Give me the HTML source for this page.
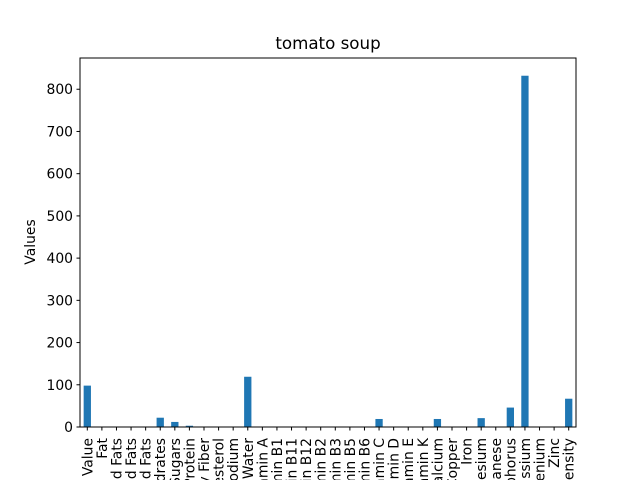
<!DOCTYPE html>
<html><head><meta charset="utf-8"><style>
html,body{margin:0;background:#fff;width:640px;height:480px;overflow:hidden}
svg{display:block;overflow:hidden}
svg text{font-family:"DejaVu Sans","Liberation Sans",sans-serif;fill:#000}
</style></head><body>
<svg id="chart" width="640" height="480" viewBox="0 0 640 480" xmlns="http://www.w3.org/2000/svg">
<defs><clipPath id="frameclip"><rect x="0" y="0" width="640" height="480"/></clipPath></defs>
<rect width="640" height="480" fill="#fff"/>
<text x="328" y="49" font-size="16.7" text-anchor="middle">tomato soup</text>
<text x="0" y="0" font-size="13.9" text-anchor="middle" transform="translate(35,242) rotate(-90)">Values</text>
<g id="bars"></g><g id="yticks"></g><g id="xticks" clip-path="url(#frameclip)"></g>
<rect x="80" y="58" width="496" height="369" fill="none" stroke="#000" stroke-width="1"/>
</svg>
<script>
const categories=["Caloric Value","Fat","Saturated Fats","Monounsaturated Fats","Polyunsaturated Fats","Carbohydrates","Sugars","Protein","Dietary Fiber","Cholesterol","Sodium","Water","Vitamin A","Vitamin B1","Vitamin B11","Vitamin B12","Vitamin B2","Vitamin B3","Vitamin B5","Vitamin B6","Vitamin C","Vitamin D","Vitamin E","Vitamin K","Calcium","Copper","Iron","Magnesium","Manganese","Phosphorus","Potassium","Selenium","Zinc","Nutrition Density"];
const values=[98,1,0.3,0.2,0.2,22,12,3,1,0,0.5,119,0,0,0,0,0,0,0,0,19,0,0,0,19,0,0.5,21,0,46,832,0,0.2,67];
const yTicks=[0,100,200,300,400,500,600,700,800];
const NS="http://www.w3.org/2000/svg";
const x0=80,x1=576,y0=427,yTop=58;
const ymax=874;
const y=v=>y0-(v/ymax)*(y0-yTop);
const step=(x1-x0)/categories.length;
const xc=i=>x0+step*(i+0.5);
const bw=step*0.5;
const mk=(t,a)=>{const e=document.createElementNS(NS,t);for(const k in a)e.setAttribute(k,a[k]);return e;};
const gb=document.getElementById('bars'),gy=document.getElementById('yticks'),gx=document.getElementById('xticks');
values.forEach((v,i)=>{
 const r=mk('rect',{x:xc(i)-bw/2,y:y(v),width:bw,height:y0-y(v),fill:'#1f77b4'});
 
 
 gb.appendChild(r);
});
yTicks.forEach(t=>{
 const l=mk('line',{x1:x0-3.5,x2:x0,y1:y(t),y2:y(t),stroke:'#000'});
 
 
 gy.appendChild(l);
 const tx=mk('text',{x:x0-7,y:y(t)+5,'font-size':'13.9','text-anchor':'end'});
 tx.textContent=t;
 
 
 gy.appendChild(tx);
});
categories.forEach((c,i)=>{
 const l=mk('line',{x1:xc(i),x2:xc(i),y1:y0,y2:y0+3.5,stroke:'#000'});
 
 
 gx.appendChild(l);
 const tx=mk('text',{x:0,y:0,'font-size':'13.9','text-anchor':'end',transform:`translate(${xc(i)+5},${y0+11}) rotate(-90)`});
 tx.textContent=c;
 
 
 gx.appendChild(tx);
});
</script>
</body></html>
